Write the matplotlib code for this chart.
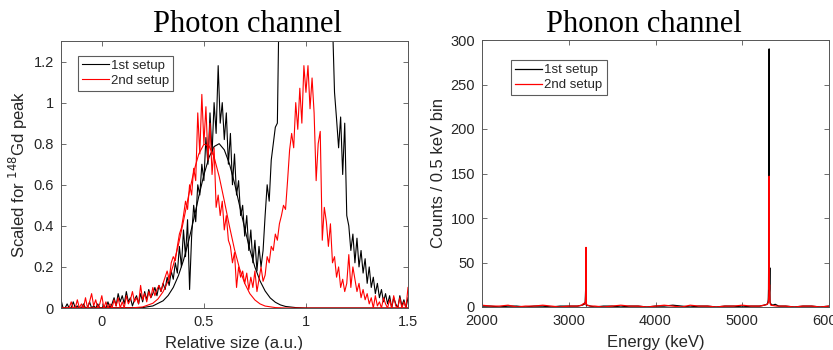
import numpy as np
import matplotlib
matplotlib.use("Agg")
import matplotlib.pyplot as plt

# ---------------- Photon channel data ----------------
photon_x_start = -0.2
photon_x_step = 0.01

photon_1st = [
    0.04, 0.0, 0.0, 0.02, 0.0, 0.0, 0.03, 0.0, 0.01, 0.0,
    0.0, 0.02, 0.0, 0.0, 0.03, 0.0, 0.01, 0.0, 0.02, 0.0,
    0.0, 0.01, 0.0, 0.03, 0.0, 0.02, 0.05, 0.01, 0.07, 0.03,
    0.06, 0.02, 0.08, 0.03, 0.05, 0.01, 0.04, 0.06, 0.02, 0.07,
    0.03, 0.08, 0.04, 0.09, 0.05, 0.07, 0.10, 0.06, 0.11, 0.08,
    0.12, 0.09, 0.15, 0.11, 0.18, 0.14, 0.22, 0.17, 0.30, 0.20,
    0.38, 0.25, 0.43, 0.09, 0.35, 0.50, 0.42, 0.60, 0.55, 0.70,
    0.62, 0.83, 0.70, 0.95, 0.75, 1.00, 0.85, 1.18, 0.90, 1.00,
    0.82, 0.95, 0.70, 0.85, 0.60, 0.75, 0.55, 0.62, 0.45, 0.50,
    0.35, 0.45, 0.28, 0.38, 0.22, 0.33, 0.18, 0.30, 0.20, 0.28,
    0.45, 0.60, 0.52, 0.72, 0.80, 0.88, 0.90, 1.60, 2.00, 2.30,
    2.50, 2.70, 2.90, 3.00, 3.10, 3.20, 3.20, 3.30, 3.30, 3.30,
    3.30, 3.20, 3.20, 3.10, 3.00, 2.90, 2.70, 2.50, 2.30, 2.10,
    1.90, 1.70, 1.50, 1.40, 1.05, 0.92, 0.78, 0.93, 0.65, 0.90,
    0.45, 0.40, 0.28, 0.36, 0.22, 0.34, 0.20, 0.28, 0.17, 0.24,
    0.12, 0.20, 0.10, 0.15, 0.07, 0.12, 0.05, 0.09, 0.03, 0.07,
    0.02, 0.06, 0.0, 0.05, 0.02, 0.0, 0.06, 0.01, 0.04, 0.0,
    0.05,
]

photon_2nd = [
    0.0, 0.0, 0.0, 0.0, 0.0, 0.03, 0.0, 0.0, 0.04, 0.0,
    0.02, 0.0, 0.05, 0.0, 0.03, 0.07, 0.01, 0.04, 0.0, 0.02,
    0.06, 0.0, 0.03, 0.0, 0.02, 0.0, 0.04, 0.01, 0.05, 0.0,
    0.03, 0.0, 0.06, 0.02, 0.04, 0.08, 0.03, 0.05, 0.02, 0.11,
    0.04, 0.07, 0.03, 0.08, 0.05, 0.10, 0.06, 0.09, 0.11, 0.08,
    0.12, 0.15, 0.18, 0.14, 0.22, 0.25, 0.23, 0.30, 0.36, 0.39,
    0.45, 0.52, 0.48, 0.60, 0.55, 0.68, 0.62, 0.95, 0.75, 1.04,
    0.80, 0.98, 0.72, 0.90, 0.65, 0.78, 0.49, 0.55, 0.45, 0.52,
    0.38, 0.45, 0.33, 0.30, 0.22, 0.27, 0.10, 0.20, 0.15, 0.18,
    0.12, 0.17, 0.09, 0.15, 0.10, 0.18, 0.08, 0.14, 0.20, 0.13,
    0.16, 0.25, 0.22, 0.30, 0.28, 0.36, 0.33, 0.41, 0.45, 0.50,
    0.48, 0.62, 0.77, 0.85, 0.78, 1.00, 0.87, 1.07, 0.90, 1.18,
    1.05, 1.18, 0.97, 1.12, 0.95, 0.62, 0.80, 0.86, 0.33, 0.49,
    0.42, 0.30, 0.41, 0.22, 0.25, 0.15, 0.20, 0.10, 0.14, 0.08,
    0.12, 0.26, 0.10, 0.20, 0.14, 0.08, 0.12, 0.05, 0.09, 0.04,
    0.07, 0.02, 0.05, 0.0, 0.06, 0.01, 0.03, 0.0, 0.05, 0.02,
    0.0, 0.04, 0.0, 0.06, 0.01, 0.0, 0.05, 0.0, 0.03, 0.0,
    0.10,
]

fit_1st_x = [-0.2, 0.2, 0.25, 0.3, 0.325, 0.35, 0.375, 0.4, 0.425, 0.45, 0.475,
             0.5, 0.525, 0.55, 0.575, 0.6, 0.625, 0.65, 0.675, 0.7, 0.725, 0.75,
             0.775, 0.8, 0.825, 0.85, 0.875, 0.9, 0.95, 1.0, 1.5]
fit_1st_y = [0.0, 0.002, 0.01, 0.035, 0.061, 0.10, 0.157, 0.232, 0.325, 0.431, 0.543,
             0.648, 0.733, 0.786, 0.80, 0.77, 0.703, 0.608, 0.498, 0.388, 0.285, 0.199,
             0.132, 0.083, 0.049, 0.028, 0.015, 0.0075, 0.002, 0.0, 0.0]

fit_2nd_x = [-0.2, 0.15, 0.2, 0.25, 0.275, 0.3, 0.325, 0.35, 0.375, 0.4, 0.425,
             0.45, 0.475, 0.5, 0.525, 0.55, 0.575, 0.6, 0.625, 0.65, 0.675, 0.7,
             0.725, 0.75, 0.775, 0.8, 0.85, 0.9, 1.5]
fit_2nd_y = [0.0, 0.001, 0.005, 0.023, 0.044, 0.079, 0.132, 0.208, 0.307, 0.423, 0.547,
             0.662, 0.75, 0.797, 0.79, 0.735, 0.64, 0.522, 0.399, 0.285, 0.191, 0.12,
             0.07, 0.039, 0.02, 0.0095, 0.002, 0.0, 0.0]

photon_yticks = [0, 0.2, 0.4, 0.6, 0.8, 1.0, 1.2]
photon_yticklabels = ["0", "0.2", "0.4", "0.6", "0.8", "1", "1.2"]
photon_xticks = [0, 0.5, 1.0, 1.5]
photon_xticklabels = ["0", "0.5", "1", "1.5"]

# ---------------- Phonon channel data ----------------
phonon_E_1st = [2000, 2100, 2200, 2300, 2400, 2500, 2600, 2700, 2800, 2900, 3000,
                3100, 3150, 3180, 3190, 3195, 3198, 3201, 3205, 3215, 3250, 3300,
                3400, 3500, 3600, 3700, 3800, 3900, 4000, 4100, 4200, 4300, 4400,
                4500, 4600, 4700, 4800, 4900, 5000, 5100, 5200, 5250, 5285, 5295,
                5300, 5303, 5305, 5307, 5310, 5312, 5315, 5318, 5320, 5325, 5335,
                5350, 5380, 5420, 5500, 5600, 5700, 5800, 5900, 6000]
phonon_1st = [1, 1, 0, 1, 1, 0, 1, 1, 0, 1, 1,
              1, 2, 3, 6, 20, 8, 3, 1, 2, 1, 0,
              1, 1, 0, 1, 1, 0, 1, 1, 2, 1, 0,
              1, 1, 0, 1, 1, 0, 1, 1, 2, 3, 5,
              8, 20, 58, 12, 290, 15, 20, 44, 6, 4, 3,
              2, 3, 1, 1, 0, 1, 1, 0, 1]

phonon_E_2nd = [2000, 2100, 2200, 2300, 2400, 2500, 2600, 2700, 2800, 2900, 3000,
                3100, 3150, 3170, 3185, 3192, 3196, 3199, 3201, 3204, 3210, 3250,
                3300, 3400, 3500, 3600, 3700, 3800, 3900, 4000, 4100, 4200, 4300,
                4400, 4500, 4600, 4700, 4800, 4900, 5000, 5100, 5200, 5250, 5290,
                5300, 5305, 5308, 5310, 5312, 5315, 5318, 5322, 5330, 5400, 5500,
                5600, 5700, 5800, 5900, 6000]
phonon_2nd = [2, 1, 1, 2, 0, 1, 1, 2, 1, 0, 1,
              1, 2, 4, 3, 6, 15, 67, 10, 3, 2, 1,
              1, 0, 1, 2, 1, 1, 0, 1, 2, 1, 0,
              2, 1, 1, 0, 1, 1, 2, 1, 1, 2, 3,
              5, 12, 25, 147, 20, 25, 10, 4, 2, 1, 1,
              0, 1, 1, 0, 1]

phonon_yticks = [0, 50, 100, 150, 200, 250, 300]
phonon_xticks = [2000, 3000, 4000, 5000, 6000]

# ---------------- Figure ----------------
TXT = "#262626"
plt.rcParams["font.family"] = ["Liberation Sans", "DejaVu Sans"]
fig = plt.figure(figsize=(8.33, 3.5), dpi=100)

ax1 = fig.add_axes([61 / 833, 42 / 350, 347 / 833, 267 / 350])
ax2 = fig.add_axes([482 / 833, 43 / 350, 347 / 833, 267 / 350])

px = photon_x_start + photon_x_step * np.arange(len(photon_1st))
ax1.plot(px, photon_1st, color="black", lw=0.8, label="1st setup")
ax1.plot(fit_1st_x, fit_1st_y, color="black", lw=0.8)
ax1.plot(px, photon_2nd, color="red", lw=0.8, label="2nd setup")
ax1.plot(fit_2nd_x, fit_2nd_y, color="red", lw=0.8)
ax1.set_xlim(-0.2, 1.5)
ax1.set_ylim(0, 1.3)
ax1.set_xticks(photon_xticks)
ax1.set_xticklabels(photon_xticklabels)
ax1.set_yticks(photon_yticks)
ax1.set_yticklabels(photon_yticklabels)
ax1.set_xlabel("Relative size (a.u.)", fontsize=12, color=TXT, labelpad=5)
ax1.set_ylabel(r"Scaled for $^{148}$Gd peak", fontsize=12, color=TXT, labelpad=3)

ax2.plot(phonon_E_1st, phonon_1st, color="black", lw=0.9, label="1st setup")
ax2.plot(phonon_E_2nd, phonon_2nd, color="red", lw=0.9, label="2nd setup")
ax2.set_xlim(2000, 6000)
ax2.set_ylim(0, 300)
ax2.set_xticks(phonon_xticks)
ax2.set_yticks(phonon_yticks)
ax2.set_xlabel("Energy (keV)", fontsize=12, color=TXT, labelpad=5)
ax2.set_ylabel("Counts / 0.5 keV bin", fontsize=12, color=TXT, labelpad=3)

for ax in (ax1, ax2):
    for s in ax.spines.values():
        s.set_color("#555555")
        s.set_linewidth(0.7)
    ax.tick_params(direction="in", top=True, right=True, length=3.5, width=0.6,
                   color="#555555", labelsize=10.5, labelcolor=TXT, pad=5)

leg1 = ax1.legend(loc="upper left", bbox_to_anchor=(0.05, 0.945), fontsize=9.5,
                  frameon=True, fancybox=False, handlelength=2.0, handletextpad=0.2,
                  borderpad=0.3, labelspacing=0.22, borderaxespad=0)
leg2 = ax2.legend(loc="upper left", bbox_to_anchor=(0.085, 0.925), fontsize=9.5,
                  frameon=True, fancybox=False, handlelength=2.0, handletextpad=0.2,
                  borderpad=0.3, labelspacing=0.22, borderaxespad=0)
for lg in (leg1, leg2):
    lg.get_frame().set_edgecolor("#333333")
    lg.get_frame().set_linewidth(0.8)
    for t in lg.get_texts():
        t.set_color(TXT)

fig.text(247 / 833, 1 - 24 / 350, "Photon channel", ha="center", va="center",
         fontsize=22, family="Liberation Serif", color="black")
fig.text(644 / 833, 1 - 24 / 350, "Phonon channel", ha="center", va="center",
         fontsize=22, family="Liberation Serif", color="black")

fig.savefig("out.png", dpi=100)
